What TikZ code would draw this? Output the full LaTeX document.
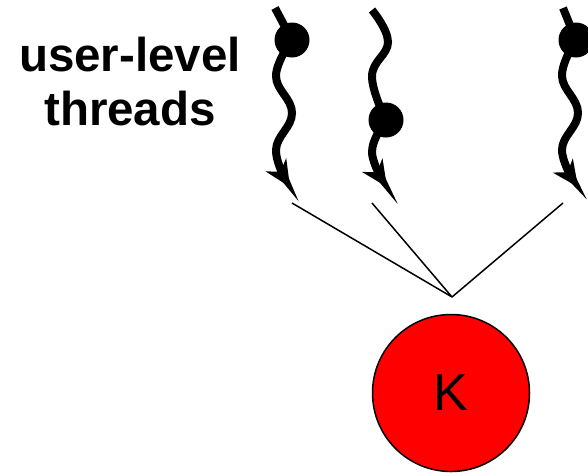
\documentclass[tikz,border=0pt]{standalone}
\usepackage{fontspec}
\setmainfont{Liberation Sans}
\usetikzlibrary{arrows.meta}
\begin{document}
\begin{tikzpicture}[x=1pt,y=-1pt,
  thread/.style={line width=8pt, line cap=butt},
  threadend/.style={line width=8pt, -{Stealth[length=26pt,width=24pt,inset=8pt]}},
  threaddot/.style={circle, fill=black, inner sep=0pt, minimum size=35pt},
  mapline/.style={line width=1.5pt},
  kernel/.style={circle, draw=black, line width=1.5pt, fill=red, minimum size=157pt, inner sep=0pt, font=\fontsize{52}{54}\selectfont}
]
\useasboundingbox (0,0) rectangle (588,475);
% label
\node[align=center, font=\fontsize{47.5}{54}\selectfont\bfseries] (lbl) at (130,82) {user-level\\threads};
% thread 1
\coordinate (a1) at (275,8);
\node[threaddot] (d1) at (292,40) {};
\draw[thread] (a1) -- (d1.center);
\draw[threadend] plot[smooth, tension=0.7] coordinates {(292,40) (276,76) (292,113) (276,150) (290,187)};
% thread 2
\coordinate (a2) at (372,10);
\node[threaddot] (d2) at (386,120) {};
\draw[thread] plot[smooth, tension=0.7] coordinates {(372,10) (388,42) (372,76) (386,120)};
\draw[threadend] plot[smooth, tension=0.7] coordinates {(386,120) (372,152) (387,187)};
% thread 3
\coordinate (a3) at (563,8);
\node[threaddot] (d3) at (576,40) {};
\draw[thread] (a3) -- (d3.center);
\draw[threadend] plot[smooth, tension=0.7] coordinates {(576,40) (562,76) (578,113) (562,150) (578,187)};
% mapping lines
\coordinate (l1) at (292,203);
\coordinate (l2) at (372,203);
\coordinate (l3) at (563,203);
\coordinate (apex) at (452,297);
\draw[mapline] (l1) -- (apex);
\draw[mapline] (l2) -- (apex);
\draw[mapline] (l3) -- (apex);
% kernel thread
\node[kernel] (K) at (451,393) {K};
\end{tikzpicture}
\end{document}
